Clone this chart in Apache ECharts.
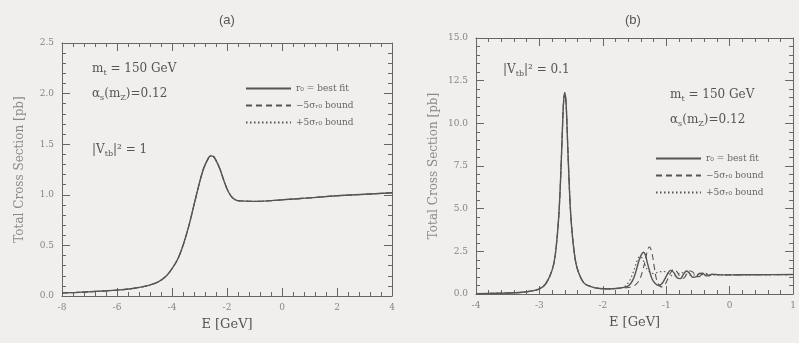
<!DOCTYPE html>
<html>
<head>
<meta charset="utf-8">
<script src="https://cdn.jsdelivr.net/npm/echarts@6/dist/echarts.min.js"></script>
<style>
html,body{margin:0;padding:0;background:#f0efed;}
#chart{width:799px;height:343px;}
</style>
</head>
<body>
<div id="chart"></div>
<script>
// ---------- Panel (a): |Vtb|^2 = 1 ----------
const aE = [-8, -7.5, -7, -6.5, -6, -5.5, -5, -4.5, -4.2, -4, -3.8, -3.6, -3.4, -3.2, -3.0, -2.85, -2.7, -2.6, -2.5, -2.4, -2.25, -2.1, -1.95, -1.8, -1.65, -1.5, -1.0, 0, 1, 2, 3, 4];
const aBest = [0.03, 0.035, 0.042, 0.05, 0.058, 0.072, 0.095, 0.14, 0.2, 0.27, 0.36, 0.5, 0.68, 0.9, 1.12, 1.26, 1.35, 1.385, 1.38, 1.34, 1.25, 1.13, 1.03, 0.97, 0.945, 0.94, 0.935, 0.95, 0.97, 0.99, 1.005, 1.02];
const aMinus = aBest.slice();
const aPlus = aBest.slice();

// ---------- Panel (b): |Vtb|^2 = 0.1 ----------
const bCommonE = [-4.0, -3.7, -3.4, -3.2, -3.0, -2.9, -2.8, -2.75, -2.7, -2.67, -2.64, -2.62, -2.60, -2.58, -2.56, -2.53, -2.50, -2.45, -2.40, -2.30, -2.20, -2.05, -1.90, -1.75];
const bCommonV = [0.02, 0.04, 0.07, 0.13, 0.3, 0.6, 1.4, 2.3, 4.3, 6.4, 9.4, 11.2, 11.8, 11.2, 9.3, 6.4, 4.3, 2.4, 1.45, 0.65, 0.45, 0.32, 0.3, 0.34];
const bBestE = [-1.65, -1.59, -1.53, -1.48, -1.44, -1.40, -1.36, -1.33, -1.30, -1.26, -1.22, -1.17, -1.12, -1.07, -1.02, -0.97, -0.93, -0.88, -0.83, -0.78, -0.73, -0.68, -0.63, -0.58, -0.53, -0.48, -0.43, -0.38, -0.33, -0.28, -0.23, -0.15, 0, 0.5, 1.0];
const bBestV = [0.4, 0.5, 0.8, 1.3, 1.85, 2.25, 2.45, 2.3, 1.85, 1.3, 0.85, 0.6, 0.5, 0.6, 0.9, 1.25, 1.4, 1.25, 0.95, 0.9, 1.15, 1.35, 1.2, 0.98, 1.0, 1.2, 1.22, 1.08, 1.06, 1.16, 1.14, 1.12, 1.12, 1.13, 1.14];
const bMinusE = [-1.65, -1.55, -1.48, -1.42, -1.37, -1.33, -1.30, -1.27, -1.25, -1.22, -1.19, -1.16, -1.12, -1.08, -1.03, -0.98, -0.93, -0.88, -0.83, -0.78, -0.73, -0.68, -0.63, -0.58, -0.53, -0.48, -0.43, -0.38, -0.33, -0.28, -0.23, -0.15, 0, 0.5, 1.0];
const bMinusV = [0.36, 0.42, 0.55, 0.85, 1.4, 2.0, 2.5, 2.75, 2.7, 2.3, 1.6, 0.95, 0.55, 0.42, 0.5, 0.85, 1.25, 1.45, 1.3, 1.0, 0.92, 1.15, 1.35, 1.28, 1.05, 1.02, 1.2, 1.22, 1.1, 1.1, 1.16, 1.13, 1.12, 1.13, 1.14];
const bPlusE = [-1.65, -1.6, -1.55, -1.5, -1.46, -1.42, -1.38, -1.34, -1.30, -1.25, -1.20, -1.15, -1.10, -1.05, -1.00, -0.95, -0.90, -0.85, -0.80, -0.75, -0.70, -0.60, -0.50, -0.40, -0.30, -0.15, 0, 0.5, 1.0];
const bPlusV = [0.45, 0.65, 1.0, 1.5, 1.95, 2.2, 2.1, 1.75, 1.45, 1.25, 1.2, 1.25, 1.3, 1.32, 1.28, 1.15, 1.05, 1.08, 1.2, 1.25, 1.18, 1.1, 1.15, 1.13, 1.12, 1.12, 1.12, 1.13, 1.14];

// ---------- axis ticks ----------
const aXTicks = [-8, -6, -4, -2, 0, 2, 4];
const aYTicks = [0.0, 0.5, 1.0, 1.5, 2.0, 2.5];
const bXTicks = [-4, -3, -2, -1, 0, 1];
const bYTicks = [0.0, 2.5, 5.0, 7.5, 10.0, 12.5, 15.0];

const names = ['r₀ = best fit', '−5σᵣ₀ bound', '+5σᵣ₀ bound'];

function pairs(xs, ys) { return xs.map((x, i) => [x, ys[i]]); }

const LINE = '#555555';
const AX = '#666666';
const LBL = '#858585';
const SERIF = '"DejaVu Serif", serif';

function xAx(grid, ticks, pos, showLabel, nameTxt) {
  return {
    type: 'value', gridIndex: grid, position: pos,
    min: ticks[0], max: ticks[ticks.length - 1], interval: ticks[1] - ticks[0],
    axisLine: {show: true, onZero: false, lineStyle: {color: AX, width: 1}},
    axisTick: {show: true, inside: true, length: 8, lineStyle: {color: AX, width: 1}},
    minorTick: {show: true, splitNumber: 5, length: 4, lineStyle: {color: AX, width: 1}},
    splitLine: {show: false},
    axisLabel: {show: showLabel, margin: 7, fontSize: 9, color: LBL, fontFamily: SERIF},
    name: nameTxt || '', nameLocation: 'middle', nameGap: 22,
    nameTextStyle: {fontSize: 13, color: '#555', fontFamily: SERIF}
  };
}
function yAx(grid, ticks, pos, showLabel, nameTxt) {
  return {
    type: 'value', gridIndex: grid, position: pos,
    min: ticks[0], max: ticks[ticks.length - 1], interval: ticks[1] - ticks[0],
    axisLine: {show: true, onZero: false, lineStyle: {color: AX, width: 1}},
    axisTick: {show: true, inside: true, length: 8, lineStyle: {color: AX, width: 1}},
    minorTick: {show: true, splitNumber: 5, length: 4, lineStyle: {color: AX, width: 1}},
    splitLine: {show: false},
    axisLabel: {show: showLabel, margin: 8, fontSize: 9, color: LBL, fontFamily: SERIF, formatter: v => v.toFixed(1)},
    name: nameTxt || '', nameLocation: 'middle', nameGap: 36,
    nameTextStyle: {fontSize: 12, color: '#8a8a8a', fontFamily: SERIF}
  };
}

const seriesStyle = [
  {type: 'solid', width: 1.4},
  {type: [6, 4], width: 1.1},
  {type: [1.5, 2.5], width: 1.1}
];

function mkSeries(k, xi, yi, data) {
  return {
    name: names[k], type: 'line', xAxisIndex: xi, yAxisIndex: yi,
    data: data, symbol: 'none', showSymbol: false, smooth: 0.35,
    lineStyle: Object.assign({color: LINE}, seriesStyle[k]),
    itemStyle: {color: LINE},
    z: k === 0 ? 3 : 2,
    animation: false
  };
}

function mkLegend(left, top) {
  return {
    orient: 'vertical', left: left, top: top, itemWidth: 45, itemHeight: 8, itemGap: 8,
    data: names, selectedMode: false,
    itemStyle: {opacity: 0, borderWidth: 0},
    textStyle: {fontSize: 9, color: '#666', fontFamily: SERIF}, padding: 0
  };
}

function ann(left, top, txt) {
  return {type: 'text', left: left, top: top, style: {text: txt, rich: {
    n: {fontSize: 12, fontFamily: SERIF, lineHeight: 16},
    s: {fontSize: 8, fontFamily: SERIF, lineHeight: 5, verticalAlign: 'bottom'}
  }, fill: '#555'}};
}

const chart = echarts.init(document.getElementById('chart'), null, {renderer: 'canvas'});
const option = {
  backgroundColor: '#f0efed',
  animation: false,
  grid: [
    {left: 62, top: 43, width: 330, height: 253},
    {left: 476, top: 38, width: 318, height: 256}
  ],
  xAxis: [
    xAx(0, aXTicks, 'bottom', true, 'E [GeV]'),
    xAx(0, aXTicks, 'top', false),
    xAx(1, bXTicks, 'bottom', true, 'E [GeV]'),
    xAx(1, bXTicks, 'top', false)
  ],
  yAxis: [
    yAx(0, aYTicks, 'left', true, 'Total Cross Section [pb]'),
    yAx(0, aYTicks, 'right', false),
    yAx(1, bYTicks, 'left', true, 'Total Cross Section [pb]'),
    yAx(1, bYTicks, 'right', false)
  ],
  legend: [mkLegend(245, 84), mkLegend(655, 154)],
  title: [
    {text: '(a)', left: 214, top: 9, textStyle: {fontSize: 13, fontWeight: 'normal', color: '#555'}},
    {text: '(b)', left: 620, top: 9, textStyle: {fontSize: 13, fontWeight: 'normal', color: '#555'}}
  ],
  graphic: [
    ann(92, 63, '{n|m}{s|t}{n| = 150 GeV}'),
    ann(92, 88, '{n|α}{s|s}{n|(m}{s|Z}{n|)=0.12}'),
    ann(92, 144, '{n||V}{s|tb}{n||² = 1}'),
    ann(503, 64, '{n||V}{s|tb}{n||² = 0.1}'),
    ann(670, 89, '{n|m}{s|t}{n| = 150 GeV}'),
    ann(670, 114, '{n|α}{s|s}{n|(m}{s|Z}{n|)=0.12}')
  ],
  series: [
    mkSeries(0, 0, 0, pairs(aE, aBest)),
    mkSeries(1, 0, 0, pairs(aE, aMinus)),
    mkSeries(2, 0, 0, pairs(aE, aPlus)),
    mkSeries(0, 2, 2, pairs(bCommonE.concat(bBestE), bCommonV.concat(bBestV))),
    mkSeries(1, 2, 2, pairs(bCommonE.concat(bMinusE), bCommonV.concat(bMinusV))),
    mkSeries(2, 2, 2, pairs(bCommonE.concat(bPlusE), bCommonV.concat(bPlusV)))
  ]
};
chart.setOption(option);
</script>
</body>
</html>
